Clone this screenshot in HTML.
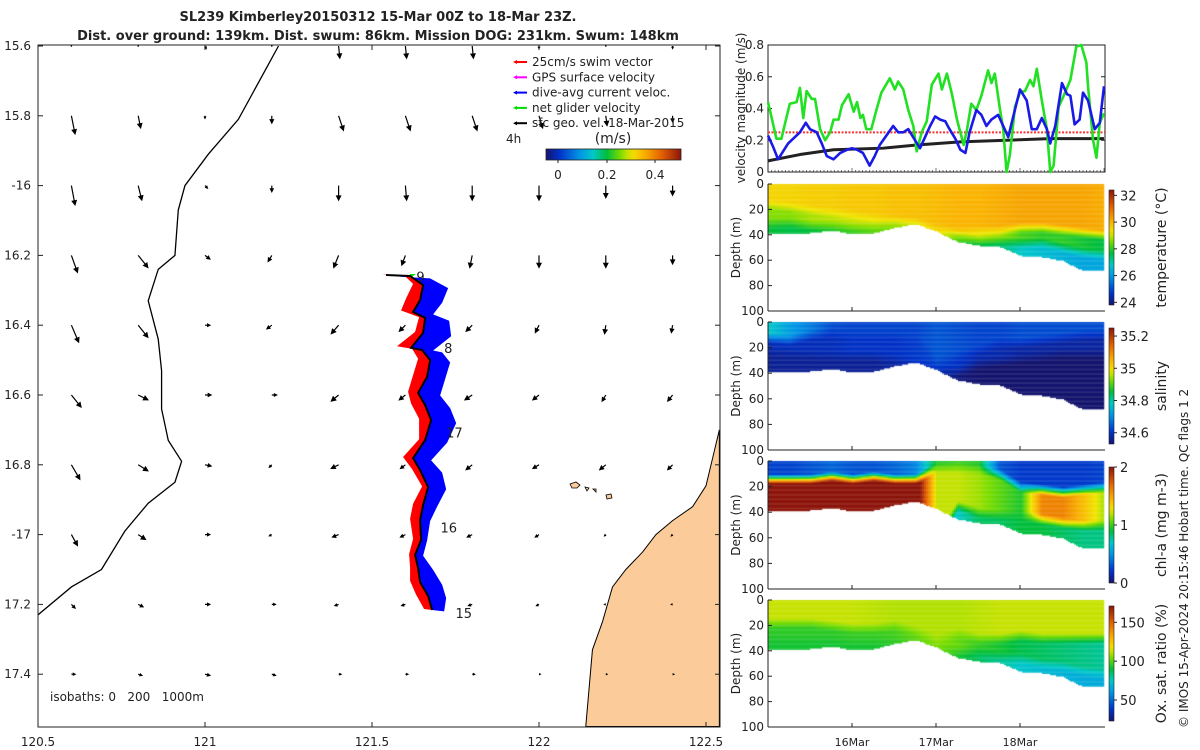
<!DOCTYPE html>
<html><head><meta charset="utf-8">
<style>
html,body{margin:0;padding:0;background:#fff;}
body{width:1200px;height:750px;position:relative;overflow:hidden;font-family:"Liberation Sans","DejaVu Sans",sans-serif;}
svg{position:absolute;left:0;top:0;}
canvas{position:absolute;left:0;top:0;}
text{font-family:"DejaVu Sans","Liberation Sans",sans-serif;fill:#222;}
</style></head><body>
<canvas id="sec" width="1200" height="750"></canvas>
<svg id="fig" width="1200" height="750">
<g id="title">
<text x="378" y="21" font-size="13" font-weight="bold" text-anchor="middle">SL239 Kimberley20150312 15-Mar 00Z to 18-Mar 23Z.</text>
<text x="378" y="40" font-size="13" font-weight="bold" text-anchor="middle">Dist. over ground: 139km. Dist. swum: 86km. Mission DOG: 231km. Swum: 148km</text>
</g>
<g id="map"></g>
<g id="right"></g>
<text transform="translate(1188,728) rotate(-90)" font-size="12">© IMOS 15-Apr-2024 20:15:46 Hobart time. QC flags 1  2</text>
</svg>
<script>
// ---------- DATA ----------
const velTimeGreen=[0,0.04,0.10,0.16,0.20,0.26,0.34,0.38,0.42,0.46,0.52,0.56,0.62,0.68,0.74,0.78,0.84,0.88,0.96,1.02,1.06,1.10,1.13,1.17,1.23,1.29,1.35,1.45,1.51,1.55,1.61,1.67,1.73,1.77,1.83,1.89,1.95,2.03,2.07,2.13,2.19,2.25,2.33,2.37,2.42,2.48,2.54,2.62,2.66,2.70,2.76,2.80,2.84,2.88,2.94,3.00,3.06,3.12,3.16,3.20,3.26,3.32,3.36,3.40,3.46,3.52,3.60,3.67,3.73,3.79,3.81,3.87,3.91,3.95,4.00];
const velGreen=[0.44,0.35,0.21,0.21,0.30,0.43,0.44,0.53,0.34,0.51,0.46,0.46,0.27,0.20,0.25,0.33,0.33,0.42,0.49,0.38,0.44,0.34,0.36,0.27,0.27,0.39,0.50,0.59,0.52,0.57,0.52,0.39,0.29,0.13,0.25,0.32,0.55,0.62,0.52,0.62,0.49,0.33,0.17,0.27,0.43,0.39,0.48,0.64,0.56,0.62,0.40,0.27,0.00,0.11,0.41,0.50,0.51,0.58,0.54,0.65,0.45,0.27,0.00,0.04,0.41,0.48,0.58,0.79,0.80,0.69,0.54,0.20,0.09,0.31,0.37];
const velTimeBlue=[0,0.06,0.12,0.18,0.24,0.32,0.38,0.45,0.50,0.58,0.64,0.70,0.78,0.86,0.94,1.00,1.06,1.13,1.21,1.27,1.33,1.41,1.49,1.55,1.61,1.67,1.75,1.81,1.87,1.93,1.99,2.05,2.11,2.15,2.23,2.29,2.35,2.40,2.48,2.54,2.60,2.66,2.74,2.80,2.86,2.92,3.00,3.08,3.14,3.20,3.26,3.32,3.36,3.42,3.50,3.56,3.60,3.65,3.71,3.75,3.81,3.89,3.95,4.00];
const velBlue=[0.23,0.16,0.08,0.13,0.18,0.22,0.25,0.31,0.27,0.25,0.18,0.10,0.08,0.12,0.14,0.15,0.14,0.12,0.04,0.10,0.17,0.23,0.29,0.25,0.25,0.27,0.20,0.15,0.22,0.29,0.35,0.33,0.32,0.28,0.21,0.14,0.12,0.25,0.39,0.36,0.29,0.33,0.36,0.29,0.22,0.35,0.52,0.45,0.27,0.27,0.34,0.27,0.18,0.29,0.56,0.49,0.48,0.30,0.33,0.50,0.45,0.27,0.31,0.54];
const velTimeBlack=[0,0.38,0.78,1.37,1.77,2.29,2.84,3.36,4.0];
const velBlack=[0.07,0.11,0.14,0.15,0.17,0.19,0.20,0.21,0.21];
const swimSpeed=0.25;
const velTicks=[0,0.2,0.4,0.6,0.8];
const dayTicks=[1,2,3];
const dayLabels=["16Mar","17Mar","18Mar"];
const depthTicks=[0,20,40,60,80,100];

// section data (nodes every 0.25 day)
const secTime=[0,0.25,0.5,0.75,1,1.25,1.5,1.75,2,2.25,2.5,2.75,3,3.25,3.5,3.75,4];
const bottomDepth=[39,39,38,36,39,38,34,31,37,45,48,49,56,57,60,68,68];
const tempSurf=[29.5,29.5,29.6,29.6,29.7,29.7,29.8,29.8,29.9,30.0,30.0,30.1,30.2,30.2,30.2,30.2,30.1];
const tempL1=[16,18,20,22,24,26,28,30,34,36,36,36,34,34,36,38,40];
const tempMid=[28.6,28.6,28.8,28.9,29.0,29.1,29.2,29.4,29.6,29.4,29.1,28.8,28.2,28.0,28.0,27.8,27.6];
const tempL2=[30,30,32,32,33,33,30,30,36,40,44,44,46,46,50,54,56];
const tempDeep=[27.7,27.6,27.7,27.9,28.1,28.3,28.6,28.9,29.2,28.2,27.6,27.4,26.8,26.6,26.4,26.2,26.2];
const salSurf=[34.78,34.72,34.68,34.63,34.62,34.62,34.62,34.62,34.64,34.63,34.62,34.62,34.63,34.63,34.63,34.63,34.63];
const salL1=[12,14,10,8,10,10,10,12,30,26,22,16,16,14,12,10,10];
const salMid=[34.59,34.59,34.59,34.59,34.60,34.60,34.60,34.61,34.62,34.60,34.58,34.58,34.57,34.57,34.57,34.57,34.57];
const salL2=[22,24,25,26,26,26,28,30,36,38,32,30,28,26,24,24,24];
const salDeep=[34.56,34.56,34.56,34.56,34.56,34.56,34.57,34.59,34.58,34.54,34.53,34.53,34.53,34.53,34.53,34.53,34.53];
const chlSurf=[0.25,0.25,0.3,0.35,0.3,0.3,0.35,0.45,0.95,1.0,0.95,0.3,0.22,0.22,0.22,0.22,0.25];
const chlL1=[14,14,14,12,14,12,14,14,5,5,6,10,20,22,24,22,20];
const chlMid=[2.2,2.2,2.2,2.2,2.2,2.2,2.2,2.2,1.2,1.2,1.15,1.05,0.95,1.6,1.6,1.4,1.15];
const chlL2=[60,60,60,60,60,60,60,60,60,35,40,42,42,45,48,50,50];
const chlDeep=[2,2,2,2,2,2,2,2,0.8,0.7,0.85,0.85,0.9,0.9,0.85,0.8,0.8];
const oxySurf=[112,112,112,112,112,111,110,110,110,110,111,112,112,112,112,112,112];
const oxyL1=[18,18,18,20,22,22,20,24,30,26,30,30,28,30,30,30,30];
const oxyMid=[95,95,95,95,96,96,98,102,106,102,96,92,88,86,84,82,80];
const oxyL2=[30,30,30,30,32,32,30,30,36,40,40,44,46,50,52,56,58];
const oxyDeep=[92,92,92,92,92,92,95,100,104,92,86,80,74,70,68,66,66];

// map data
const trackLon=[121.680,121.668,121.644,121.638,121.629,121.647,121.644,121.653,121.668,121.644,121.623,121.659,121.677,121.659,121.638,121.665,121.674,121.650,121.617,121.653,121.659,121.623,121.644,121.653,121.614,121.542];
const trackLat=[-17.216,-17.176,-17.136,-17.096,-17.058,-17.015,-16.958,-16.915,-16.864,-16.815,-16.781,-16.729,-16.672,-16.629,-16.594,-16.548,-16.500,-16.471,-16.465,-16.422,-16.379,-16.362,-16.328,-16.285,-16.259,-16.256];
const currentDrift=[0.036,0.054,0.066,0.045,0.024,0.018,0.030,0.042,0.054,0.066,0.054,0.066,0.075,0.075,0.066,0.054,0.060,0.060,0.066,0.084,0.072,0.060,0.066,0.075,0.060,0.045];
const swimDrift=[0.024,0.036,0.030,0.024,0.018,0.024,0.030,0.030,0.018,0.024,0.030,0.018,0.036,0.042,0.030,0.042,0.036,0.030,0.042,0.024,0.018,0.036,0.042,0.030,0.018,0.012];
const dayMarkLabels=["15","16","17","8","9"];
const dayMarkLon=[121.750,121.705,121.722,121.716,121.633];
const dayMarkLat=[-17.224,-16.980,-16.708,-16.465,-16.260];
const gridLon=[120.6,120.8,121.0,121.2,121.4,121.6,121.8,122.0,122.2,122.4];
const gridLat=[-15.6,-15.8,-16.0,-16.2,-16.4,-16.6,-16.8,-17.0,-17.2,-17.4];
const geoU=[
[0,0,0.01,0,0.01,0.01,0.01,0,0,0],
[0.03,0.02,0,0,0.04,0.04,0.04,0.03,0.01,0],
[0.03,0.03,0.02,0,0,0.01,0,0,0,0],
[0.05,0.08,0.04,-0.03,-0.04,-0.03,-0.02,0,0,0],
[0.06,0.08,0.04,-0.04,-0.06,-0.05,-0.05,-0.03,-0.01,-0.01],
[0.08,0.08,0.05,0.04,-0.06,-0.05,-0.06,-0.05,-0.03,-0.04],
[0.07,0.08,0.05,-0.02,-0.06,-0.04,-0.05,-0.05,-0.05,-0.04],
[0.05,0.06,0.04,-0.02,-0.05,-0.04,-0.04,-0.03,-0.01,-0.01],
[0.03,0.04,0.04,0.03,-0.03,-0.03,-0.03,-0.02,-0.01,-0.01],
[0.03,0.03,0.04,0.03,0.02,0.02,0.02,0.01,0.01,0.01]];
const geoV=[
[0,0,-0.02,0,-0.10,-0.10,-0.10,-0.02,0,-0.02],
[-0.15,-0.10,-0.02,-0.06,-0.12,-0.12,-0.12,-0.10,-0.08,-0.05],
[-0.16,-0.12,-0.02,-0.05,-0.12,-0.12,-0.12,-0.12,-0.10,-0.08],
[-0.14,-0.10,-0.03,-0.05,-0.10,-0.08,-0.10,-0.10,-0.10,-0.07],
[-0.14,-0.10,0,-0.03,-0.07,-0.05,-0.05,-0.06,-0.07,-0.06],
[-0.10,-0.04,0,0,-0.05,-0.04,-0.04,-0.04,-0.05,-0.05],
[-0.12,-0.05,-0.01,-0.02,-0.03,-0.03,-0.04,-0.03,-0.04,-0.04],
[-0.09,-0.04,0,-0.01,-0.02,-0.02,-0.02,-0.02,-0.01,-0.01],
[-0.03,-0.02,0,0,-0.01,-0.01,-0.01,-0.01,0,0],
[0,-0.01,-0.01,-0.01,0,0,0,0,0,0]];
const coastLon=[121.22,121.18,121.10,121.01,120.94,120.92,120.91,120.86,120.83,120.86,120.87,120.87,120.89,120.93,120.91,120.83,120.76,120.69,120.60,120.50,120.45];
const coastLat=[-15.60,-15.67,-15.81,-15.91,-16.00,-16.07,-16.20,-16.24,-16.33,-16.44,-16.53,-16.64,-16.73,-16.79,-16.85,-16.91,-16.99,-17.10,-17.15,-17.23,-17.28];
const landLon=[122.54,122.52,122.50,122.46,122.40,122.35,122.31,122.26,122.22,122.19,122.16,122.14,122.54];
const landLat=[-16.70,-16.78,-16.86,-16.92,-16.96,-17.00,-17.05,-17.10,-17.15,-17.25,-17.33,-17.55,-17.55];
const lonTicks=[120.5,121,121.5,122,122.5];
const lonLabels=["120.5","121","121.5","122","122.5"];
const latTicks=[-15.6,-15.8,-16,-16.2,-16.4,-16.6,-16.8,-17,-17.2,-17.4];
const latLabels=["15.6","15.8","-16","16.2","16.4","16.6","16.8","-17","17.2","17.4"];

// ---------- HELPERS ----------
const NS="http://www.w3.org/2000/svg";
function mk(tag,attrs,parent){const e=document.createElementNS(NS,tag);for(const k in attrs)e.setAttribute(k,attrs[k]);parent.appendChild(e);return e;}
const cmapStops=[[0,20,20,110],[0.1,0,50,200],[0.25,0,150,230],[0.35,0,200,200],[0.45,0,190,60],[0.55,120,220,0],[0.63,240,230,0],[0.72,250,180,0],[0.85,230,100,0],[1,140,20,10]];
function jet(v){v=Math.max(0,Math.min(1,v));for(let i=1;i<cmapStops.length;i++){const a=cmapStops[i-1],b=cmapStops[i];if(v<=b[0]){const f=(v-a[0])/(b[0]-a[0]);return[1,2,3].map(k=>Math.round(a[k]+f*(b[k]-a[k])));}}return cmapStops[cmapStops.length-1].slice(1);}
function interp(ts,vs,t){if(t<=ts[0])return vs[0];for(let i=1;i<ts.length;i++){if(t<=ts[i]){const f=(t-ts[i-1])/(ts[i]-ts[i-1]);return vs[i-1]+f*(vs[i]-vs[i-1]);}}return vs[vs.length-1];}

// ---------- MAP ----------
const map=document.getElementById('map');
const mx0=38,mx1=720,my0=45,my1=727;
const lonX=lon=>38+(lon-120.5)*334;
const latY=lat=>46+(-15.6-lat)*349;
const clip=mk('clipPath',{id:'mapclip'},map);
mk('rect',{x:mx0,y:my0,width:mx1-mx0,height:my1-my0},clip);
const mg=mk('g',{'clip-path':'url(#mapclip)'},map);
let lp=landLon.map((l,i)=>lonX(l)+','+latY(landLat[i])).join(' ');
const land=mk('polygon',{points:lp,fill:'#fbcb9a',stroke:'#000','stroke-width':1},mg);


const isl=mk('path',{d:'M570,484 l6,-2 l4,3 l-3,3 l-5,0z M585,487 l4,1 l-2,3z M606,495 l5,-1 l1,4 l-5,1z M593,489 l3,0 l0,3z',fill:'#fbcb9a',stroke:'#000','stroke-width':0.8},mg);


const cl=mk('polyline',{points:coastLon.map((l,i)=>lonX(l)+','+latY(coastLat[i])).join(' '),fill:'none',stroke:'#000','stroke-width':1.3},mg);


const vg=mk('g',{},mg);


const VS=120;
gridLat.forEach((la,i)=>gridLon.forEach((lo,j)=>{
  const x=lonX(lo),y=latY(la),dx=geoU[i][j]*VS,dy=-geoV[i][j]*VS;
  const L=Math.hypot(dx,dy);
  if(L<0.5){const d=mk('circle',{cx:x,cy:y,r:0.8,fill:'#000'},vg);return;}
  const ex=x+dx,ey=y+dy,ux=dx/L,uy=dy/L,h=Math.min(4,L*0.45);
  const a=mk('path',{d:`M${x},${y}L${ex},${ey}M${ex},${ey}L${ex-h*ux-h*0.5*uy},${ey-h*uy+h*0.5*ux}L${ex-h*ux+h*0.5*uy},${ey-h*uy-h*0.5*ux}Z`,stroke:'#000','stroke-width':1.2,fill:'#000'},vg);
  
  
}));
const tx=trackLon.map(lonX),ty=trackLat.map(latY);
function swath(w,sign,col,name){
  const pts=[];tx.forEach((x,i)=>pts.push(x+','+ty[i]));
  for(let i=tx.length-1;i>=0;i--)pts.push((tx[i]+sign*w[i]*334)+','+(ty[i]+sign*w[i]*40));
  const p=mk('polygon',{points:pts.join(' '),fill:col},mg);
  
  
}
swath(currentDrift,1,'#0000ff','dive-avg-current-swath');
swath(swimDrift,-1,'#ff0000','swim-vector-swath');
const gs=mk('polygon',{points:`${tx[24]},${ty[24]-2} ${tx[24]+6},${ty[24]-2} ${tx[24]},${ty[24]+2}`,fill:'#00e000'},mg);


const tr=mk('polyline',{points:tx.map((x,i)=>x+','+ty[i]).join(' '),fill:'none',stroke:'#000','stroke-width':2},mg);


dayMarkLabels.forEach((s,i)=>{const t=mk('text',{x:lonX(dayMarkLon[i]),y:latY(dayMarkLat[i])+5,'font-size':13},mg);t.textContent=s;

});
const fr=mk('rect',{x:mx0,y:my0,width:mx1-mx0,height:my1-my0,fill:'none',stroke:'#222','stroke-width':1},map);


lonTicks.forEach((l,i)=>{const x=lonX(l);mk('line',{x1:x,x2:x,y1:my1,y2:my1-5,stroke:'#222'},map);mk('line',{x1:x,x2:x,y1:my0,y2:my0+5,stroke:'#222'},map);
const t=mk('text',{x:x,y:746,'font-size':12,'text-anchor':'middle'},map);t.textContent=lonLabels[i];

});
latTicks.forEach((l,i)=>{const y=latY(l);mk('line',{x1:mx0,x2:mx0+5,y1:y,y2:y,stroke:'#222'},map);mk('line',{x1:mx1,x2:mx1-5,y1:y,y2:y,stroke:'#222'},map);
const t=mk('text',{x:31,y:y+4,'font-size':12,'text-anchor':'end'},map);t.textContent=latLabels[i];

});
const iso=mk('text',{x:50,y:701,'font-size':12},map);iso.textContent='isobaths: 0\u00a0\u00a0\u00a0200\u00a0\u00a0\u00a01000m';


const leg=mk('g',{},map);


const legItems=[['25cm/s swim vector','#ff0000'],['GPS surface velocity','#ff00ff'],['dive-avg current veloc.','#0000ff'],['net glider velocity','#00dd00'],['sfc geo. vel. 18-Mar-2015','#000']];
legItems.forEach((it,i)=>{const y=66+i*15.3;
mk('line',{x1:515,x2:527,y1:y-4,y2:y-4,stroke:it[1],'stroke-width':2},leg);
mk('path',{d:`M513,${y-4}l4,-2l0,4z`,fill:it[1]},leg);
const t=mk('text',{x:532,y:y,'font-size':12},leg);t.textContent=it[0];

});
const h4=mk('text',{x:506,y:143,'font-size':12},map);h4.textContent='4h';

const cu=mk('text',{x:613,y:143,'font-size':14,'text-anchor':'middle'},map);cu.textContent='(m/s)';

const defs=mk('defs',{},map);
const lg=mk('linearGradient',{id:'jetH',x1:0,x2:1,y1:0,y2:0},defs);
for(let k=0;k<=20;k++){const c=jet(k/20);mk('stop',{offset:k/20,'stop-color':`rgb(${c})`},lg);}
const cb=mk('rect',{x:546,y:149,width:135,height:11,fill:'url(#jetH)',stroke:'#222','stroke-width':0.8},map);

[['0',558],['0.2',607],['0.4',655]].forEach(a=>{mk('line',{x1:a[1],x2:a[1],y1:160,y2:163,stroke:'#222'},map);const t=mk('text',{x:a[1],y:179,'font-size':12,'text-anchor':'middle'},map);t.textContent=a[0];
});

// ---------- RIGHT PANELS ----------
const R=document.getElementById('right');
const px0=768,px1=1105;
const tX=t=>px0+t*84;
const vy0=45,vy1=172;
const vY=v=>vy1-v*(vy1-vy0)/0.8;
const vf=mk('rect',{x:px0,y:vy0,width:px1-px0,height:vy1-vy0,fill:'none',stroke:'#222'},R);

velTicks.forEach(v=>{mk('line',{x1:px0,x2:px0+4,y1:vY(v),y2:vY(v),stroke:'#222'},R);mk('line',{x1:px1,x2:px1-4,y1:vY(v),y2:vY(v),stroke:'#222'},R);
const t=mk('text',{x:764,y:vY(v)+4,'font-size':12,'text-anchor':'end'},R);t.textContent=String(v);
});
for(let k=0;k<=96;k++){const x=tX(k/24);mk('line',{x1:x,x2:x,y1:vy1,y2:vy1-(k%24==0?4:2),stroke:'#222','stroke-width':0.6},R);}
const vl=mk('text',{transform:'translate(745,108) rotate(-90)','font-size':12,'text-anchor':'middle'},R);vl.textContent='velocity magnitude (m/s)';

const sw=mk('line',{x1:px0,x2:px1,y1:vY(swimSpeed),y2:vY(swimSpeed),stroke:'#ff3030','stroke-width':2,'stroke-dasharray':'2,1.5'},R);

function series(ts,vs,col,w,name){const p=mk('polyline',{points:ts.map((t,i)=>tX(t)+','+vY(vs[i])).join(' '),fill:'none',stroke:col,'stroke-width':w,'stroke-linejoin':'round'},R);
}
series(velTimeBlack,velBlack,'#222',3,'geostrophic-speed-line');
series(velTimeGreen,velGreen,'#22e022',2.6,'net-glider-speed-line');
series(velTimeBlue,velBlue,'#1a1ae6',2.6,'current-speed-line');

const panels=[
 {top:184,h:127,surf:tempSurf,l1:tempL1,mid:tempMid,l2:tempL2,deep:tempDeep,lo:23.8,hi:32.4,ticks:[24,26,28,30,32],label:'temperature (°C)',name:'temperature'},
 {top:322,h:128,surf:salSurf,l1:salL1,mid:salMid,l2:salL2,deep:salDeep,lo:34.53,hi:35.25,ticks:[34.6,34.8,35,35.2],label:'salinity',name:'salinity'},
 {top:461,h:128,surf:chlSurf,l1:chlL1,mid:chlMid,l2:chlL2,deep:chlDeep,lo:0,hi:2,ticks:[0,1,2],label:'chl-a (mg m-3)',name:'chlorophyll'},
 {top:600,h:127,surf:oxySurf,l1:oxyL1,mid:oxyMid,l2:oxyL2,deep:oxyDeep,lo:23,hi:171,ticks:[50,100,150],label:'Ox. sat. ratio (%)',name:'oxygen'}];
const ctx=document.getElementById('sec').getContext('2d');
function blend(a,b,d,edge,width){const f=Math.max(0,Math.min(1,(d-edge)/width+0.5));return a+(b-a)*f;}
panels.forEach(P=>{
  const dy=P.h/100;
  for(let x=px0;x<px1-1;x+=2){
    const t=(x-px0)/84;
    const bot=interp(secTime,bottomDepth,t),s=interp(secTime,P.surf,t),a1=interp(secTime,P.l1,t),m=interp(secTime,P.mid,t),a2=interp(secTime,P.l2,t),dp=interp(secTime,P.deep,t);
    for(let d=0;d<bot;d+=1){
      let v=blend(s,m,d,a1,8);
      v=blend(v,dp,d,a2,8);
      const c=jet((v-P.lo)/(P.hi-P.lo));
      ctx.fillStyle=`rgb(${c})`;
      ctx.fillRect(x,P.top+d*dy,2.2,dy+0.3);
    }
  }
  const bx=P.top+P.h;
  mk('line',{x1:px0,x2:px0,y1:P.top,y2:bx,stroke:'#222'},R);
  mk('line',{x1:px0,x2:px1,y1:bx,y2:bx,stroke:'#222'},R);
  depthTicks.forEach(d=>{const y=P.top+d*dy;mk('line',{x1:px0,x2:px0+4,y1:y,y2:y,stroke:'#222'},R);
   const t=mk('text',{x:764,y:y+4,'font-size':12,'text-anchor':'end'},R);t.textContent=String(d);
   });
  dayTicks.forEach(k=>mk('line',{x1:tX(k),x2:tX(k),y1:bx,y2:bx-4,stroke:'#222'},R));
  const yl=mk('text',{transform:`translate(740,${P.top+P.h/2}) rotate(-90)`,'font-size':12,'text-anchor':'middle'},R);yl.textContent='Depth (m)';
  
  const cb0=P.top+6,cb1=P.top+P.h-6;
  const gid='cb'+P.name;const g=mk('linearGradient',{id:gid,x1:0,x2:0,y1:1,y2:0},defs);
  for(let k=0;k<=20;k++){const c=jet(k/20);mk('stop',{offset:k/20,'stop-color':`rgb(${c})`},g);}
  const r=mk('rect',{x:1109,y:cb0,width:5,height:cb1-cb0,fill:`url(#${gid})`,stroke:'#222','stroke-width':0.6},R);
  
  P.ticks.forEach(v=>{const y=cb1-(v-P.lo)/(P.hi-P.lo)*(cb1-cb0);mk('line',{x1:1114,x2:1117,y1:y,y2:y,stroke:'#222'},R);
   const t=mk('text',{x:1120,y:y+5,'font-size':13},R);t.textContent=String(v);
   });
  const cl2=mk('text',{transform:`translate(1166,${P.top+P.h/2}) rotate(-90)`,'font-size':14,'text-anchor':'middle'},R);cl2.textContent=P.label;
  
});
dayTicks.forEach((k,i)=>{const t=mk('text',{x:tX(k),y:746,'font-size':11,'text-anchor':'middle'},R);t.textContent=dayLabels[i];
});
</script>
</body></html>
